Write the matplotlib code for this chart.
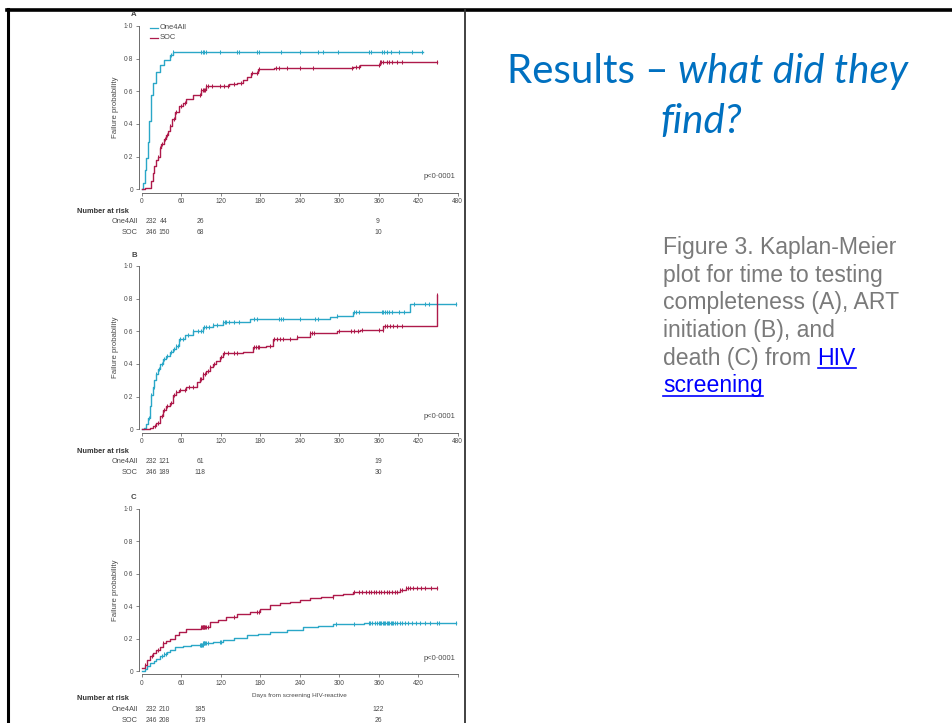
import numpy as np
import matplotlib
matplotlib.use("Agg")
import matplotlib.pyplot as plt
from matplotlib.lines import Line2D

W, H = 952, 723
CYAN = "#2aa7c7"
RED = "#ae1a4b"

# ---------------- data ----------------
TIME_TICKS = [0, 60, 120, 180, 240, 300, 360, 420, 480]
PROB_TICKS = [0, 0.2, 0.4, 0.6, 0.8, 1.0]
PROB_LABELS = ["0", "0·2", "0·4", "0·6", "0·8", "1·0"]
GROUPS = ["One4All", "SOC"]

# Panel A: testing completeness
a_one_t = [0, 2, 4, 6, 9, 11, 14, 17, 21, 27, 34, 42, 47]
a_one_p = [0, 0.04, 0.12, 0.19, 0.29, 0.42, 0.58, 0.65, 0.72, 0.76, 0.79, 0.82, 0.84]
a_one_c = [44, 47, 90, 92, 95, 97, 118, 145, 148, 175, 178, 212, 240, 268, 275,
           298, 345, 348, 365, 368, 372, 378, 390, 410, 425]
a_soc_t = [0, 5, 10, 14, 17, 19, 22, 24, 27, 29, 33, 37, 40, 42, 46, 50, 57, 62, 67,
           78, 90, 98, 133, 144, 154, 160, 166, 177, 200, 321, 331, 362]
a_soc_p = [0, 0.005, 0.01, 0.05, 0.1, 0.14, 0.18, 0.2, 0.25, 0.28, 0.31, 0.33, 0.36,
           0.39, 0.43, 0.475, 0.51, 0.53, 0.55, 0.58, 0.61, 0.63, 0.645, 0.65, 0.67,
           0.69, 0.71, 0.735, 0.745, 0.75, 0.76, 0.78]
a_soc_c = [24, 28, 31, 35, 38, 42, 48, 52, 60, 65, 88, 90, 92, 94, 96, 98, 100, 106,
           118, 125, 130, 140, 150, 168, 175, 178, 203, 208, 220, 240, 260, 320, 326,
           330, 360, 362, 364, 366, 372, 376, 380, 388, 396, 448]

# Panel B: ART initiation
b_one_t = [0, 3, 6, 9, 12, 14, 17, 19, 22, 24, 28, 32, 37, 42, 47, 52, 57, 65, 78,
           93, 108, 123, 164, 286, 296, 321, 407]
b_one_p = [0, 0.01, 0.03, 0.07, 0.14, 0.21, 0.26, 0.30, 0.34, 0.37, 0.40, 0.43, 0.45,
           0.475, 0.49, 0.51, 0.55, 0.58, 0.60, 0.625, 0.64, 0.66, 0.675, 0.685, 0.695,
           0.72, 0.765]
b_one_c = [10, 14, 18, 22, 26, 30, 34, 38, 44, 48, 52, 55, 58, 62, 70, 78, 85, 90, 92,
           95, 98, 102, 108, 114, 123, 126, 128, 133, 140, 148, 170, 175, 208, 212,
           214, 240, 263, 267, 296, 322, 325, 330, 365, 367, 370, 372, 375, 380, 390,
           398, 414, 430, 436, 477]
b_soc_t = [0, 12, 16, 22, 27, 32, 37, 42, 47, 52, 57, 67, 83, 88, 93, 98, 103, 108,
           113, 118, 123, 154, 169, 189, 199, 235, 255, 296, 331, 367, 448]
b_soc_p = [0, 0.01, 0.02, 0.04, 0.08, 0.12, 0.14, 0.16, 0.21, 0.23, 0.24, 0.26, 0.29,
           0.31, 0.34, 0.36, 0.38, 0.40, 0.42, 0.44, 0.465, 0.475, 0.505, 0.51, 0.555,
           0.567, 0.588, 0.60, 0.61, 0.63, 0.82]
b_soc_c = [20, 25, 30, 34, 38, 44, 48, 52, 58, 65, 72, 78, 88, 90, 93, 96, 100, 104,
           110, 120, 125, 130, 140, 145, 170, 173, 176, 178, 195, 200, 205, 210, 215,
           225, 236, 255, 258, 262, 300, 318, 322, 328, 335, 360, 366, 370, 373, 377,
           382, 388, 396, 448]

# Panel C: death
c_one_t = [0, 4, 8, 12, 18, 22, 27, 33, 38, 42, 50, 62, 75, 93, 108, 123, 140, 159,
           176, 194, 220, 245, 268, 291, 337, 347]
c_one_p = [0, 0.015, 0.03, 0.047, 0.06, 0.075, 0.09, 0.105, 0.12, 0.13, 0.145, 0.156,
           0.163, 0.17, 0.18, 0.19, 0.205, 0.22, 0.23, 0.24, 0.255, 0.27, 0.28, 0.287,
           0.294, 0.298]
c_one_c = [30, 33, 36, 88, 89, 90, 91, 92, 93, 94, 95, 96, 98, 100, 118, 120, 295, 322,
           345, 347, 350, 354, 358, 360, 362, 364, 366, 368, 370, 372, 374, 376, 378,
           380, 382, 385, 388, 392, 396, 400, 404, 410, 416, 422, 430, 438, 448, 452,
           478]
c_soc_t = [0, 4, 8, 12, 17, 22, 27, 32, 37, 42, 50, 57, 67, 90, 103, 115, 128, 144,
           164, 180, 194, 210, 225, 240, 255, 272, 291, 305, 321, 392, 402]
c_soc_p = [0.02, 0.04, 0.065, 0.09, 0.11, 0.13, 0.15, 0.17, 0.185, 0.2, 0.22, 0.24,
           0.26, 0.27, 0.30, 0.315, 0.335, 0.35, 0.365, 0.385, 0.405, 0.417, 0.427,
           0.437, 0.448, 0.458, 0.468, 0.475, 0.485, 0.50, 0.513]
c_soc_c = [5, 15, 25, 32, 90, 91, 92, 93, 94, 95, 96, 98, 100, 140, 175, 178, 290, 322,
           330, 335, 340, 345, 348, 352, 356, 360, 364, 368, 372, 376, 380, 384, 388,
           392, 396, 402, 404, 408, 412, 418, 424, 430, 440, 448]

# follow-up end of each curve
a_end = [428, 448]
b_end = [478, 448]
c_end = [478, 448]

a_risk = [[232, 44, 26, 9], [246, 150, 68, 10]]
b_risk = [[232, 121, 61, 19], [246, 189, 118, 30]]
c_risk = [[232, 210, 185, 122], [246, 208, 179, 26]]

P_TEXT = "p<0·0001"
X_LABEL = "Days from screening HIV-reactive"
Y_LABEL = "Failure probability"

# ---------------- figure ----------------
fig = plt.figure(figsize=(W / 100, H / 100), dpi=100)
fig.patch.set_facecolor("white")


def fx(x):
    return x / W


def fy(y):
    return 1 - y / H


# slide frame
fig.add_artist(Line2D([fx(7.5), fx(7.5)], [fy(9), fy(723)], color="black", lw=2.2))
fig.add_artist(Line2D([fx(7), fx(952)], [fy(10), fy(10)], color="black", lw=2.6))
fig.add_artist(Line2D([fx(465), fx(465)], [fy(10), fy(723)], color="#333333", lw=1.3))

TICK_FS = 4.7
LAB_FS = 5.3
NUM_FS = 4.9
FAM = "Liberation Sans"
NARROW = ["Liberation Sans Narrow", "Liberation Sans"]
TXT = "#4a4a4a"
RISK_PX = [151.5, 164, 200, 378]   # pixel centres of at-risk columns


def step_lookup(t, p, x):
    idx = np.searchsorted(np.asarray(t), np.asarray(x), side="right") - 1
    return np.asarray(p)[np.clip(idx, 0, len(p) - 1)]


def panel(y0px, y1px, letter, curves, ends, risk, show480=True, xlabel=False,
          legend=False):
    ax = fig.add_axes([fx(142), fy(y0px), fx(457.7) - fx(142), (y0px - y1px) / H])
    ax.set_xlim(0, 480)
    ax.set_ylim(0, 1.0)
    for s in ["top", "right"]:
        ax.spines[s].set_visible(False)
    for s in ["left", "bottom"]:
        ax.spines[s].set_position(("outward", 2.5))
        ax.spines[s].set_linewidth(0.6)
        ax.spines[s].set_color("#555555")
    ax.set_xticks(TIME_TICKS)
    ax.set_xticklabels([str(v) if (v != 480 or show480) else "" for v in TIME_TICKS])
    ax.set_yticks(PROB_TICKS)
    ax.set_yticklabels(PROB_LABELS)
    ax.tick_params(labelsize=TICK_FS, length=2.5, width=0.5, pad=1.5, colors="#555555",
                   labelcolor=TXT)
    for lab in ax.get_xticklabels() + ax.get_yticklabels():
        lab.set_family(FAM)
    ax.set_ylabel(Y_LABEL, fontsize=5.6, family=NARROW, color=TXT, labelpad=3.5)
    for (t, p, c), end, col in zip(curves, ends, [CYAN, RED]):
        tt = list(t) + [end]
        pp = list(p) + [p[-1]]
        ax.step(tt, pp, where="post", color=col, lw=1.0, clip_on=False)
        ax.plot(c, step_lookup(t, p, c), ls="none", marker="|", ms=3.4, mew=0.75,
                color=col, clip_on=False)
    ax.text(477, 0.08, P_TEXT, fontsize=5.4, ha="right", va="center",
            family=NARROW, color=TXT)
    fig.text(fx(131), fy(y1px - 11), letter, fontsize=5.6, ha="left",
             va="center", family=FAM, weight="bold", color="#444444")
    if legend:
        for i, (g, col) in enumerate(zip(GROUPS, [CYAN, RED])):
            yy = 0.99 - i * 0.062
            ax.plot([12, 24], [yy, yy], color=col, lw=0.9, clip_on=False)
            ax.text(27, yy, g, fontsize=5.4, va="center", family=NARROW, color=TXT)
    if xlabel:
        ax.set_xlabel(X_LABEL, fontsize=4.6, family=NARROW, color=TXT, labelpad=4)
    # number at risk
    base = y0px + 22 if not xlabel else y0px + 28
    fig.text(fx(77), fy(base), "Number at risk", fontsize=LAB_FS, weight="bold",
             family=NARROW, va="center", color="#333333")
    for r, (g, vals) in enumerate(zip(GROUPS, risk)):
        yy = base + 10.5 * (r + 1)
        fig.text(fx(138), fy(yy), g, fontsize=LAB_FS, ha="right", va="center",
                 family=NARROW, color=TXT)
        for k, v in enumerate(vals):
            fig.text(fx(RISK_PX[k]), fy(yy), str(v), fontsize=NUM_FS,
                     ha="center", va="center", family=NARROW, color=TXT)
    return ax


panel(189.3, 26, "A",
      [(a_one_t, a_one_p, a_one_c), (a_soc_t, a_soc_p, a_soc_c)], a_end, a_risk,
      legend=True)
panel(429.3, 266, "B",
      [(b_one_t, b_one_p, b_one_c), (b_soc_t, b_soc_p, b_soc_c)], b_end, b_risk)
panel(671, 508.7, "C",
      [(c_one_t, c_one_p, c_one_c), (c_soc_t, c_soc_p, c_soc_c)], c_end, c_risk,
      show480=False, xlabel=True)

# ---------------- right side text ----------------
BLUE = "#0070c0"
TFS = 29
fig.text(fx(507), fy(83), "Results –", fontsize=TFS, color=BLUE, family="Lato",
         va="baseline", ha="left")
fig.text(fx(908), fy(83), "what did they", fontsize=TFS, color=BLUE, family="Lato",
         style="italic", va="baseline", ha="right")
fig.text(fx(701), fy(133), "find?", fontsize=TFS, color=BLUE, family="Lato",
         style="italic", va="baseline", ha="center")

BFS = 16.6
GRAY = "#7a7a7a"
LINK = "#0000ff"
lines = [
    [("Figure 3. Kaplan-Meier", GRAY)],
    [("plot for time to testing", GRAY)],
    [("completeness (A), ART", GRAY)],
    [("initiation (B), and", GRAY)],
    [("death (C) from ", GRAY), ("HIV", LINK)],
    [("screening", LINK)],
]
fig.canvas.draw()
renderer = fig.canvas.get_renderer()
for i, segs in enumerate(lines):
    yb = 254 + 27.7 * i
    x = 663
    for txt, col in segs:
        t = fig.text(fx(x), fy(yb), txt, fontsize=BFS, color=col, family=FAM,
                     va="baseline", ha="left")
        wpx = t.get_window_extent(renderer).width
        if col == LINK:
            fig.add_artist(Line2D([fx(x), fx(x + wpx)], [fy(yb + 3.2), fy(yb + 3.2)],
                                  color=col, lw=1.2))
        x += wpx

fig.savefig("out.png", dpi=100, facecolor="white")
